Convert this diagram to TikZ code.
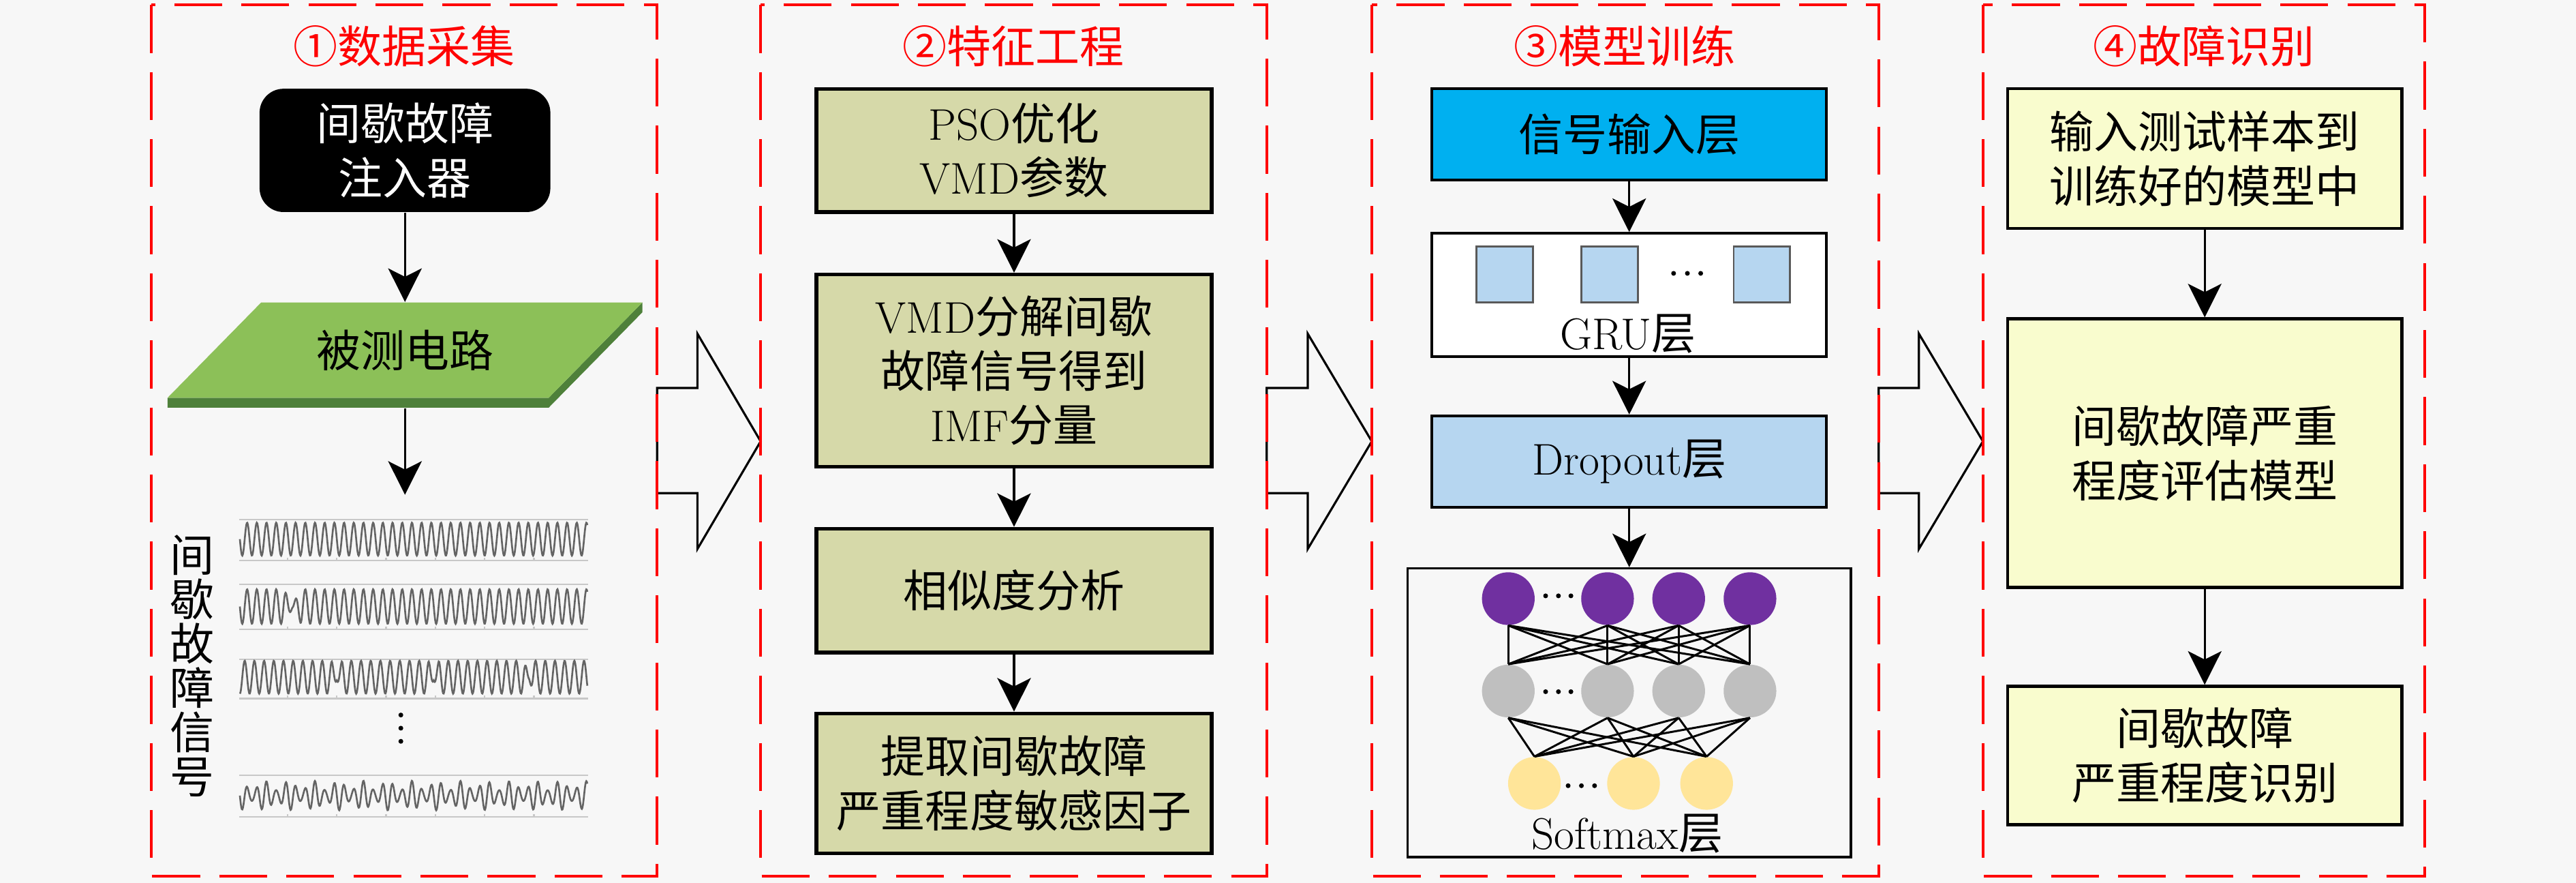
\documentclass[tikz,border=0pt]{standalone}
\usepackage{fontspec}
\newfontfamily\cjk{Noto Sans CJK SC}
\usetikzlibrary{arrows.meta,fit}
\definecolor{bgc}{RGB}{247,247,247}
\definecolor{khaki}{RGB}{214,217,169}
\definecolor{lyel}{RGB}{249,252,206}
\definecolor{cyanb}{RGB}{0,176,240}
\definecolor{lblue}{RGB}{182,214,240}
\definecolor{gtop}{RGB}{140,192,88}
\definecolor{gside}{RGB}{78,128,58}
\definecolor{npur}{RGB}{112,48,160}
\definecolor{ngray}{RGB}{191,191,191}
\definecolor{nyel}{RGB}{255,229,153}
\definecolor{sigc}{RGB}{100,100,100}
\definecolor{axc}{RGB}{200,200,200}
\newcommand\fs{\fontsize{18.5}{22.6}\selectfont}
\newcommand\zh[1]{{\cjk #1}}
\begin{document}
\begin{tikzpicture}[x=0.024107cm,y=-0.024107cm,
  panel/.style={draw=red, line width=1.2pt, dash pattern=on 20pt off 8pt},
  ttl/.style={text=red, font=\fs, inner sep=0pt},
  txt/.style={font=\fs, inner sep=0pt, align=center},
  boxK/.style={draw=black, line width=1.5pt, fill=khaki, inner sep=0pt},
  boxY/.style={draw=black, line width=1.3pt, fill=lyel, inner sep=0pt},
  boxM/.style={draw=black, line width=1.2pt, inner sep=0pt},
  arr/.style={-{Stealth[length=14pt,width=14pt,inset=3.5pt]}, line width=0.9pt},
  bigarrow/.style={draw=black, line width=0.9pt, fill=bgc},
  sig/.style={draw=sigc, line width=0.75pt},
  ax/.style={draw=axc, line width=0.6pt},
  neu/.style={circle, minimum size=22pt, inner sep=0pt, draw=none},
  sq/.style={draw=black!65, line width=0.8pt, fill=lblue, minimum width=23.5pt, minimum height=23.3pt, inner sep=0pt},
  dotc/.style={fill=black}
]
\useasboundingbox (0,0) rectangle (1568,537);
\fill[bgc] (0,0) rectangle (1568,537);

% big arrows between panels
\draw[bigarrow] (400,236) -- (424.5,236) -- (424.5,203) -- (463,268.5) -- (424.5,334) -- (424.5,300) -- (400,300) -- cycle;
\draw[bigarrow] (771,236) -- (796,236) -- (796,203) -- (835,268.5) -- (796,334) -- (796,300) -- (771,300) -- cycle;
\draw[bigarrow] (1143.5,236) -- (1168,236) -- (1168,203) -- (1207,268.5) -- (1168,334) -- (1168,300) -- (1143.5,300) -- cycle;

% panels
\draw[panel] (92,3) rectangle (400,533);
\draw[panel] (463,3) rectangle (771,533);
\draw[panel] (835,3) rectangle (1143.5,533);
\draw[panel] (1207,3) rectangle (1476,533);

% titles
\node[ttl] (t1) at (246,28) {\zh{①数据采集}};
\node[ttl] (t2) at (617,28) {\zh{②特征工程}};
\node[ttl] (t3) at (989,28) {\zh{③模型训练}};
\node[ttl] (t4) at (1341.5,28) {\zh{④故障识别}};

% ---------- panel 1 ----------
\node[fit={(158,54) (335,129)}, inner sep=0pt, fill=black, rounded corners=10pt] (inj) {};
\node[txt, text=white] (injt) at (inj.center) {\zh{间歇故障}\\\zh{注入器}};
\fill[gside] (102,242) -- (334,242) -- (391,184) -- (391,190) -- (334,248) -- (102,248) -- cycle;
\fill[gtop] (159,184) -- (391,184) -- (334,242) -- (102,242) -- cycle;
\node[fit={(102,184) (391,248)}, inner sep=0pt] (circ) {};
\node[txt] (circt) at (246.5,213) {\zh{被测电路}};
\draw[arr] (inj.south) -- (circ.north);
\coordinate (sigtop) at (246.5,301);
\draw[arr] (circ.south) -- (sigtop);

\node[font=\fontsize{18.5}{18.5}\selectfont, align=center, inner sep=0pt] (vlab) at (117,405) {\zh{间}\\\zh{歇}\\\zh{故}\\\zh{障}\\\zh{信}\\\zh{号}};

% signal strips
\foreach \ya/\yb in {316/341, 355.4/383, 401/425, 471.5/497}{
  \draw[ax] (145.5,\ya) -- (358,\ya);
  \draw[ax] (145.5,\yb) -- (358,\yb);
  \foreach \tx in {175,205,235,265,295,325}{
    \draw[ax] (\tx,\yb) -- (\tx,\yb-1.8);
  }
}
\draw[sig] plot[domain=0:211.5, samples=700, variable=\t] ({146+\t},{328+10*sin(61*\t)});
\draw[sig] plot[domain=0:211.5, samples=700, variable=\t] ({146+\t},{369+10.5*min(1,0.12+abs(\t-32)/6)*sin(61*\t)});
\draw[sig] plot[domain=0:211.5, samples=700, variable=\t] ({146+\t},{412+10*min(1,0.2+min(abs(\t-59),abs(\t-118),abs(\t-176))/4)*sin(61*\t+90)});
\draw[sig] plot[domain=0:211.5, samples=700, variable=\t] ({146+\t},{484+9*(0.68+0.32*cos(24*\t))*sin(61*\t)});
\fill[dotc] (244,435) circle (1pt) (244,443) circle (1pt) (244,451) circle (1pt);

% ---------- panel 2 ----------
\node[boxK, fit={(497,54) (737.5,129)}] (k1) {};
\node[txt] (k1t) at (k1.center) {PSO\zh{优化}\\VMD\zh{参数}};
\node[boxK, fit={(497,167) (737.5,284)}] (k2) {};
\node[txt] (k2t) at (k2.center) {VMD\zh{分解间歇}\\\zh{故障信号得到}\\IMF\zh{分量}};
\node[boxK, fit={(497,321.6) (737.5,397)}] (k3) {};
\node[txt] (k3t) at (k3.center) {\zh{相似度分析}};
\node[boxK, fit={(497,434) (737.5,519)}] (k4) {};
\node[txt] (k4t) at (k4.center) {\zh{提取间歇故障}\\\zh{严重程度敏感因子}};
\draw[arr] (k1.south) -- (k2.north);
\draw[arr] (k2.south) -- (k3.north);
\draw[arr] (k3.south) -- (k4.north);

% ---------- panel 3 ----------
\node[boxM, fill=cyanb, fit={(871.6,54) (1111.8,109.6)}] (inp) {};
\node[txt] (inpt) at (inp.center) {\zh{信号输入层}};
\node[boxM, fill=white, fit={(871.6,142) (1111.8,217)}] (gru) {};
\node[sq] (s1) at (915.9,167) {};
\node[sq] (s2) at (979.8,167) {};
\node[sq] (s3) at (1072.4,167) {};
\fill[dotc] (1018.7,166.3) circle (1pt) (1027.1,166.3) circle (1pt) (1035.2,166.3) circle (1pt);
\node[txt] (grut) at (991,203) {GRU\zh{层}};
\node[boxM, fill=lblue, fit={(871.6,253) (1111.8,308.5)}] (drop) {};
\node[txt] (dropt) at (drop.center) {Dropout\zh{层}};
\node[draw=black, line width=1pt, inner sep=0pt, fit={(856.8,345.8) (1126.6,521.5)}] (soft) {};
\draw[arr] (inp.south) -- (gru.north);
\draw[arr] (gru.south) -- (drop.north);
\draw[arr] (drop.south) -- (soft.north);

\foreach \i/\x in {1/918.1, 2/978.5, 3/1021.8, 4/1065.2}{
  \node[neu, fill=npur] (p\i) at (\x,364.2) {};
  \node[neu, fill=ngray] (g\i) at (\x,420.4) {};
}
\foreach \i/\x in {1/934, 2/994.3, 3/1038.8}{
  \node[neu, fill=nyel] (y\i) at (\x,476.6) {};
}
\foreach \a in {1,...,4}{
  \foreach \b in {1,...,4}{
    \draw[line width=0.85pt] (p\a.south) -- (g\b.north);
  }
  \foreach \b in {1,...,3}{
    \draw[line width=0.85pt] (g\a.south) -- (y\b.north);
  }
}
\fill[dotc] (940.8,362.5) circle (1pt) (948.6,362.5) circle (1pt) (956.2,362.5) circle (1pt);
\fill[dotc] (940.8,420.8) circle (1pt) (948.6,420.8) circle (1pt) (956.2,420.8) circle (1pt);
\fill[dotc] (954.5,478) circle (1pt) (962.6,478) circle (1pt) (970.6,478) circle (1pt);
\node[txt] (softt) at (990.6,507.3) {Softmax\zh{层}};

% ---------- panel 4 ----------
\node[boxY, fit={(1222,54) (1462,139)}] (r1) {};
\node[txt] (r1t) at (r1.center) {\zh{输入测试样本到}\\\zh{训练好的模型中}};
\node[boxY, fit={(1222,194) (1462,357.4)}] (r2) {};
\node[txt] (r2t) at (r2.center) {\zh{间歇故障严重}\\\zh{程度评估模型}};
\node[boxY, fit={(1222,417.5) (1462,501.7)}] (r3) {};
\node[txt] (r3t) at (r3.center) {\zh{间歇故障}\\\zh{严重程度识别}};
\draw[arr] (r1.south) -- (r2.north);
\draw[arr] (r2.south) -- (r3.north);
\end{tikzpicture}
\end{document}
